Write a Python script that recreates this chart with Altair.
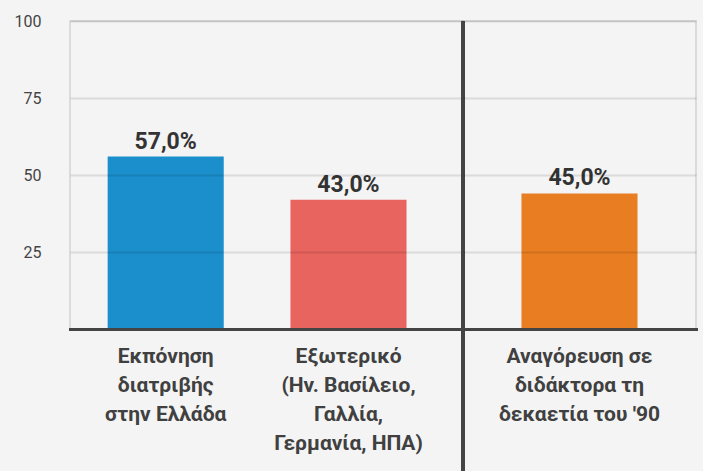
import altair as alt
import pandas as pd

categories = [
    "Εκπόνηση|διατριβής|στην Ελλάδα",
    "Εξωτερικό|(Ην. Βασίλειο,|Γαλλία,|Γερμανία, ΗΠΑ)",
    "Αναγόρευση σε|διδάκτορα τη|δεκαετία του '90",
]
panels = ["left", "left", "right"]
bar_values = [56.0, 42.0, 44.0]
value_labels = ["57,0%", "43,0%", "45,0%"]
colors = ["#1b8fcc", "#e8645f", "#e87d21"]
y_ticks = [25, 50, 75, 100]

df = pd.DataFrame({
    "category": categories,
    "panel": panels,
    "value": bar_values,
    "label": value_labels,
    "color": colors,
})

PLOT_H = 308


def panel(which, width, x_scale, show_y_labels, separator=False):
    d = df[df["panel"] == which]
    y_axis = alt.Axis(
        values=y_ticks, grid=True, gridColor="#000000", gridOpacity=0.1, gridWidth=2,
        domain=False, ticks=False, labels=show_y_labels, labelFontSize=16,
        labelColor="#444444", labelPadding=29, labelFont="Roboto", zindex=1,
        title=None, minExtent=0,
    )
    x_axis = alt.Axis(
        title=None, labelExpr="split(datum.label, '|')", labelAngle=0, ticks=False,
        domain=True, domainColor="#444444", domainWidth=3, domainCap="square",
        labelFont="Roboto", labelFontSize=21, labelFontWeight="bold",
        labelColor="#404040", labelPadding=16, labelLineHeight=29, zindex=1,
    )
    x_enc = alt.X("category:N", sort=None, axis=x_axis, scale=x_scale)
    y_enc = alt.Y("value:Q", scale=alt.Scale(domain=[0, 100]), axis=y_axis)
    base = alt.Chart(d)
    bars = base.mark_bar().encode(
        x=x_enc, y=y_enc, color=alt.Color("color:N", scale=None)
    )
    text = base.mark_text(
        baseline="alphabetic", dy=-8, font="Roboto", fontSize=23,
        fontWeight="bold", color="#333333",
    ).encode(x=alt.X("category:N", sort=None), y=alt.Y("value:Q"), text="label:N")
    layers = [bars, text]
    if separator:
        rule = alt.Chart(pd.DataFrame({"s": [0]})).mark_rule(
            color="#444444", strokeWidth=4
        ).encode(x=alt.value(0), y=alt.value(0), y2=alt.value(PLOT_H + 150))
        layers.append(rule)
    return alt.layer(*layers).properties(width=width, height=PLOT_H)


left = panel(
    "left", 393,
    alt.Scale(paddingInner=0.365, paddingOuter=0.2575, align=0.4),
    True,
)
right = panel(
    "right", 233,
    alt.Scale(paddingInner=0, paddingOuter=0.504),
    False, separator=True,
)

chart = alt.hconcat(left, right, spacing=0, bounds="flush").configure(
    background="#f4f4f4",
    padding={"left": 13, "top": 12, "right": 6, "bottom": 0},
).configure_view(stroke="#000000", strokeOpacity=0.1, strokeWidth=2)

chart.save("out.html", embed_options={"renderer": "svg", "actions": False})
